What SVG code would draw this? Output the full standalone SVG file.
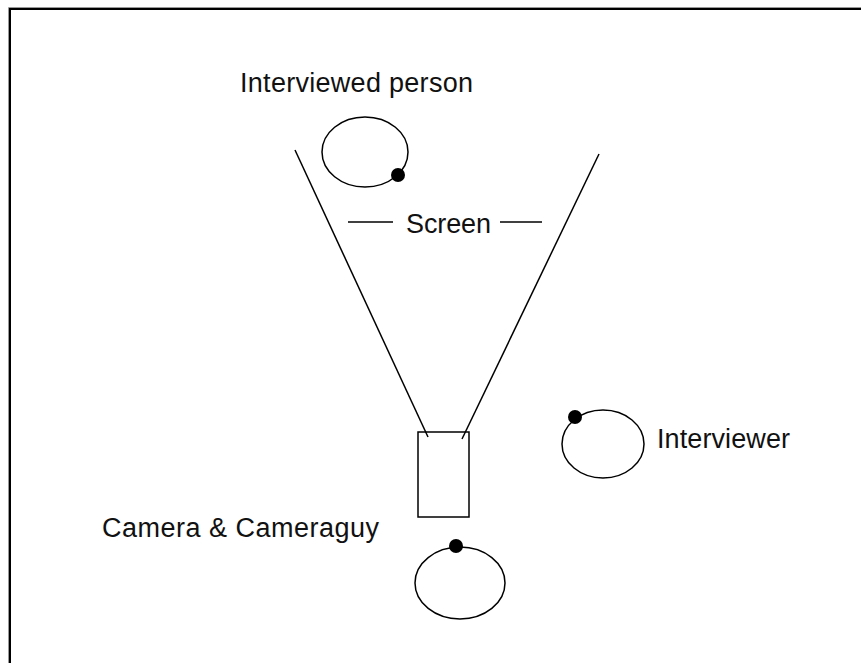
<svg xmlns="http://www.w3.org/2000/svg" width="861" height="663" viewBox="0 0 861 663">
<style>
.t{font-family:"Liberation Sans",Arial,sans-serif;font-size:27px;fill:#111}
.s{fill:none;stroke:#000;stroke-width:1.5}
.d{fill:#000}
</style>
<rect width="861" height="663" fill="#fff"/>
<g id="frame">
<path d="M8.5 663 V7.5 H861" fill="none" stroke="#999" stroke-width="1"/>
<path d="M10 663 V9 H861" fill="none" stroke="#000" stroke-width="2"/>
</g>
<g id="connectors">
<line class="s" x1="295" y1="150" x2="428" y2="437"/>
<line class="s" x1="599" y1="154" x2="462" y2="439"/>
<line class="s" x1="348" y1="222" x2="393" y2="222"/>
<line class="s" x1="500" y1="222" x2="542" y2="222"/>
</g>
<g id="interviewed-person">
<text class="t" x="240" y="92" textLength="233">Interviewed person</text>
<ellipse class="s" cx="365" cy="152" rx="43" ry="35"/>
<circle class="d" cx="398" cy="175" r="7"/>
</g>
<g id="screen">
<text class="t" x="406" y="233" textLength="85">Screen</text>
</g>
<g id="camera">
<rect class="s" x="418" y="432" width="51" height="85" stroke-width="2"/>
<text class="t" x="102" y="537" textLength="277">Camera &amp; Cameraguy</text>
</g>
<g id="cameraguy">
<ellipse class="s" cx="460" cy="583" rx="45" ry="36"/>
<circle class="d" cx="456" cy="546" r="7"/>
</g>
<g id="interviewer">
<ellipse class="s" cx="603" cy="444" rx="41" ry="34"/>
<circle class="d" cx="575" cy="417" r="7"/>
<text class="t" x="657" y="448" textLength="133">Interviewer</text>
</g>
</svg>
